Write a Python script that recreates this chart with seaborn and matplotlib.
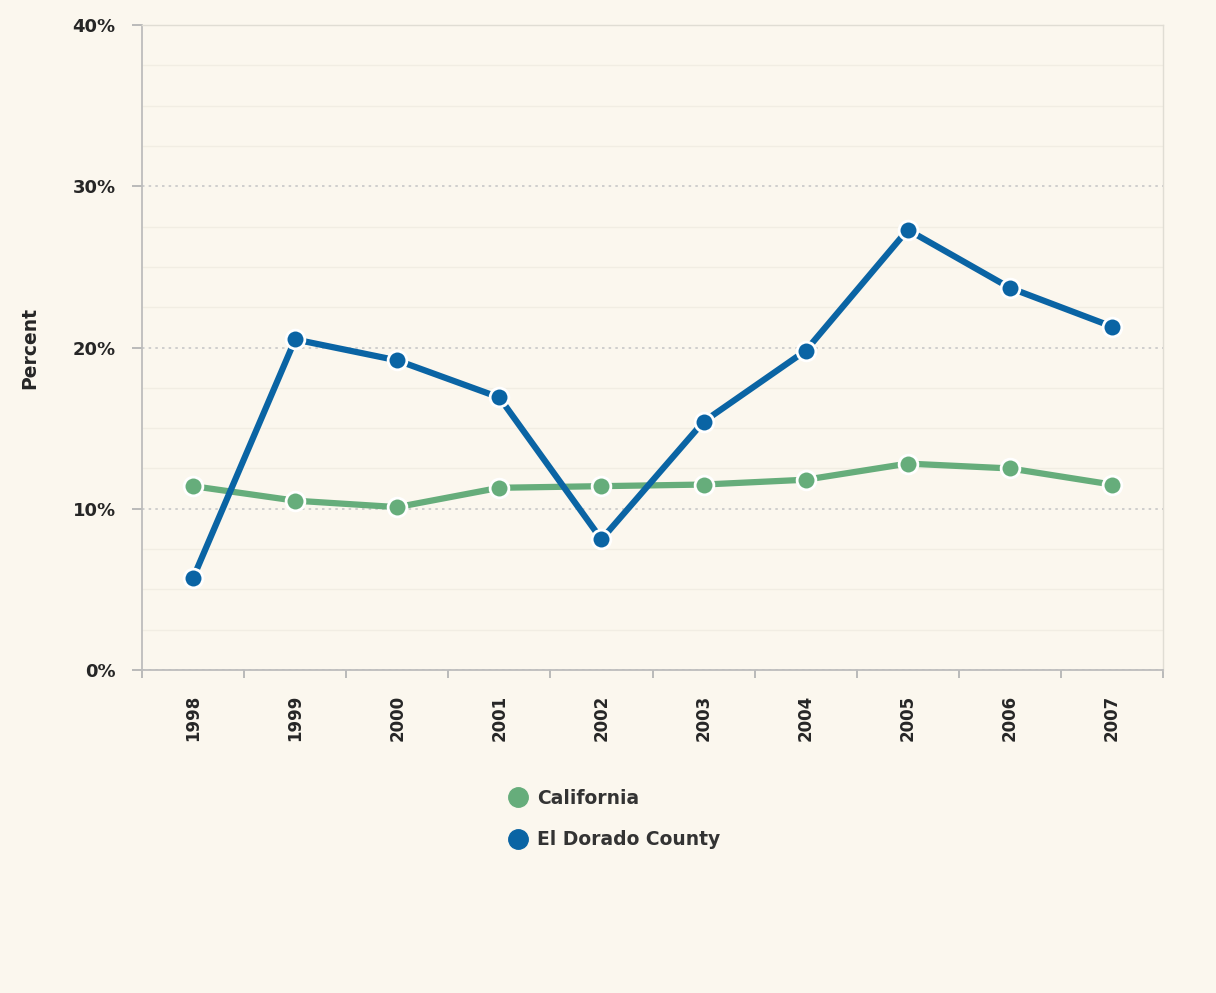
import numpy as np
import matplotlib
matplotlib.use("Agg")
import matplotlib.pyplot as plt
import pandas as pd
import seaborn as sns
from matplotlib.ticker import FuncFormatter, MultipleLocator, FixedLocator
from matplotlib.lines import Line2D

years = ["1998", "1999", "2000", "2001", "2002", "2003", "2004", "2005", "2006", "2007"]
california = [11.4, 10.5, 10.1, 11.3, 11.4, 11.5, 11.8, 12.8, 12.5, 11.5]
el_dorado = [5.7, 20.5, 19.2, 16.9, 8.1, 15.4, 19.8, 27.3, 23.7, 21.3]
series_names = ["California", "El Dorado County"]
colors = ["#66ad7b", "#0a64a4"]

bg = "#fbf7ee"
sns.set_style("white")
plt.rcParams["font.family"] = ["DejaVu Sans"]

df = pd.DataFrame({
    "pos": list(range(len(years))) * 2,
    "value": california + el_dorado,
    "series": [series_names[0]] * len(years) + [series_names[1]] * len(years),
})

fig = plt.figure(figsize=(12.16, 9.93), dpi=100, facecolor=bg)
ax = fig.add_axes([0.1168, 0.3253, 0.8396, 0.6495])
ax.set_facecolor(bg)

sns.lineplot(data=df, x="pos", y="value", hue="series", palette=colors,
             hue_order=series_names, marker="o", markersize=13.5,
             markeredgecolor="white", markeredgewidth=2, linewidth=4.5,
             legend=False, ax=ax, zorder=3)

ax.set_xlim(-0.5, len(years) - 0.5)
ax.set_ylim(0, 40)

# y grid: dotted major, faint minor
ax.yaxis.set_major_locator(MultipleLocator(10))
ax.yaxis.set_minor_locator(MultipleLocator(2.5))
ax.yaxis.set_major_formatter(FuncFormatter(lambda v, p: f"{v:.0f}%"))
ax.grid(axis="y", which="major", color="#c8c8c8", linestyle=(0, (1.5, 2.5)), linewidth=1.2)
ax.grid(axis="y", which="minor", color="#f1ede3", linestyle="-", linewidth=1)
ax.grid(axis="x", visible=False)

# x: labels centered, ticks at boundaries
ax.set_xticks(range(len(years)))
ax.set_xticklabels(years, rotation=90, fontsize=12, fontweight="bold")
ax.xaxis.set_minor_locator(FixedLocator(np.arange(-0.5, len(years), 1)))
ax.tick_params(axis="x", which="major", bottom=True, length=0, pad=18)
ax.tick_params(axis="x", which="minor", bottom=True, length=6, color="#b5b5b5", width=1.3)
ax.tick_params(axis="y", which="major", left=True, length=7, color="#b5b5b5", width=1.3,
               labelsize=13, pad=12)
ax.tick_params(axis="y", which="minor", left=False, length=0)
for lbl in ax.get_yticklabels():
    lbl.set_fontweight("bold")

for side in ["top", "right"]:
    ax.spines[side].set_color("#e0ddd4")
    ax.spines[side].set_linewidth(1)
for side in ["left", "bottom"]:
    ax.spines[side].set_color("#bdbdbd")
    ax.spines[side].set_linewidth(1.3)

ax.set_xlabel("")
ax.set_ylabel("Percent", fontsize=13.5, fontweight="bold", labelpad=24)

handles = [Line2D([], [], linestyle="", marker="o", markersize=14,
                  markerfacecolor=c, markeredgecolor=c) for c in colors]
fig.legend(handles, series_names, loc="upper left", bbox_to_anchor=(0.404, 0.213),
           frameon=False, prop={"weight": "bold", "size": 13.5}, labelcolor="#333333",
           handletextpad=0.05, labelspacing=1.2, borderaxespad=0)

fig.savefig("out.png", dpi=100, facecolor=bg)
